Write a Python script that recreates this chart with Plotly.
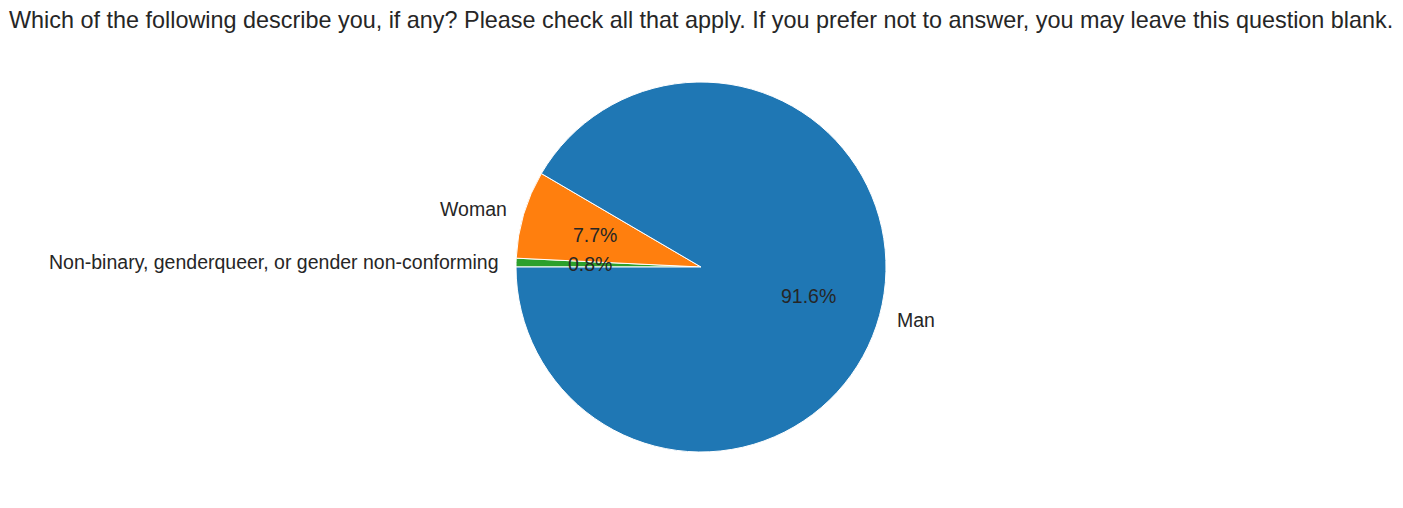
import math
import plotly.graph_objects as go

labels = ["Man", "Woman", "Non-binary, genderqueer, or gender non-conforming"]
values = [9157, 767, 76]
colors = ["#1f77b4", "#ff7f0e", "#2ca02c"]
title = ("Which of the following describe you, if any? Please check all that apply. "
         "If you prefer not to answer, you may leave this question blank.")

W, H = 1403, 508
OFF = 8  # page body margin
cx, cy, r = 701 - OFF, 267 - OFF, 185  # pixel geometry of the pie
font_family = "Arial, Liberation Sans, sans-serif"
txt_color = "#262626"

# plotly lays slices clockwise; reversing order reproduces matplotlib's
# counter-clockwise layout starting at 9 o'clock
fig = go.Figure(go.Pie(
    labels=labels[::-1], values=values[::-1], sort=False, direction="clockwise",
    rotation=270, textinfo="none", hoverinfo="label+percent",
    marker=dict(colors=colors[::-1], line=dict(color="white", width=1)),
    domain=dict(x=[(cx - r) / W, (cx + r) / W], y=[(H - cy - r) / H, (H - cy + r) / H]),
    showlegend=False,
))

total = sum(values)
cum = 0.0
annotations = []
for lab, v in zip(labels, values):
    frac = v / total
    theta = math.radians(180 + 360 * (cum + frac / 2))
    cum += frac
    c, s = math.cos(theta), math.sin(theta)
    lx, ly = cx + 1.1 * r * c + (-2 if c > 0 else 3), cy - 1.1 * r * s
    annotations.append(dict(
        x=lx / W, y=1 - ly / H, xref="paper", yref="paper", text=lab, showarrow=False,
        xanchor="left" if c > 0 else "right", yanchor="middle",
        font=dict(size=19.5, color=txt_color, family=font_family)))
    px, py = cx + 0.6 * r * c, cy - 0.6 * r * s
    annotations.append(dict(
        x=px / W, y=1 - py / H, xref="paper", yref="paper", text=f"{frac * 100:.1f}%",
        showarrow=False, xanchor="center", yanchor="middle",
        font=dict(size=19.5, color=txt_color, family=font_family)))

annotations.append(dict(
    x=(701 - OFF) / W, y=1 - (20 - OFF) / H, xref="paper", yref="paper", text=title,
    showarrow=False, xanchor="center", yanchor="middle",
    font=dict(size=23.4, color=txt_color, family=font_family)))

fig.update_layout(
    width=W, height=H, margin=dict(l=0, r=0, t=0, b=0),
    paper_bgcolor="white", plot_bgcolor="white",
    annotations=annotations,
)
fig.write_html("out.html")
